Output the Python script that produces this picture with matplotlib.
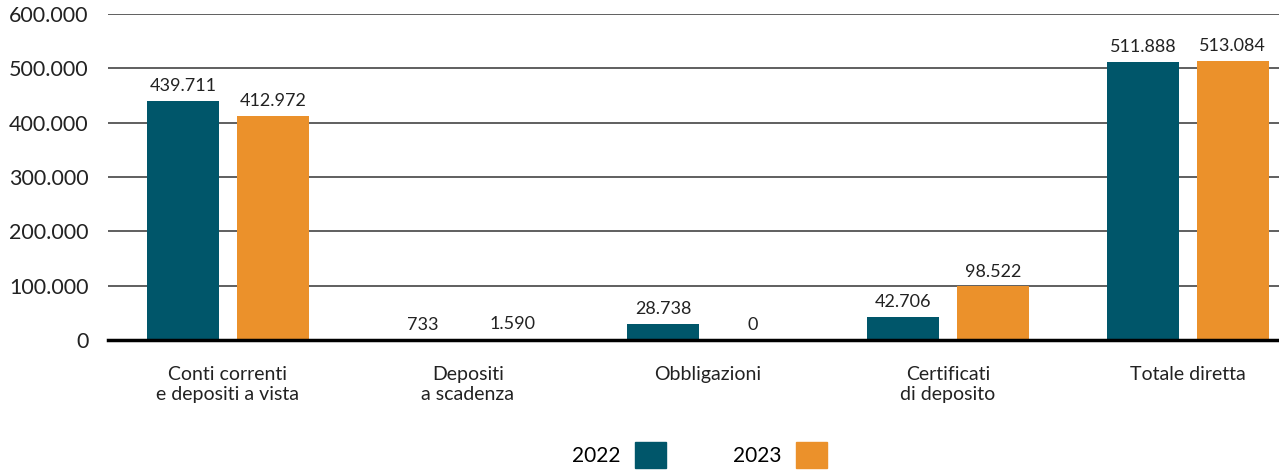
import matplotlib
matplotlib.use("Agg")
import matplotlib.pyplot as plt
from matplotlib.patches import Patch

categories = ["Conti correnti\ne depositi a vista", "Depositi\na scadenza", "Obbligazioni",
              "Certificati\ndi deposito", "Totale diretta"]
values_2022 = [439711, 733, 28738, 42706, 511888]
values_2023 = [412972, 1590, 0, 98522, 513084]
series_names = ["2022", "2023"]
yticks = [0, 100000, 200000, 300000, 400000, 500000, 600000]

c22 = "#00566A"
c23 = "#EB912B"

def fmt(v):
    return f"{v:,}".replace(",", ".")

plt.rcParams['font.family'] = ['Lato', 'DejaVu Sans']

fig = plt.figure(figsize=(12.79, 4.71), dpi=100)
ax = fig.add_axes([108/1279, 1-340/471, 1-108/1279, (340-14)/471])

x = list(range(len(categories)))
w = 0.30
off = 0.1875
b1 = ax.bar([i - off for i in x], values_2022, width=w, color=c22, zorder=3)
b2 = ax.bar([i + off for i in x], values_2023, width=w, color=c23, zorder=3)

for bars, vals in ((b1, values_2022), (b2, values_2023)):
    for r, v in zip(bars, vals):
        ax.annotate(fmt(v), (r.get_x() + r.get_width()/2, v), xytext=(0, 5),
                    textcoords="offset points", ha="center", va="bottom",
                    fontsize=13, color="#222222")

ax.set_xlim(-0.5, 4.38)
ax.set_ylim(0, 600000)
ax.set_yticks(yticks)
ax.set_yticklabels([fmt(t) for t in yticks], fontsize=15.5, color="#222222")
ax.set_xticks(x)
ax.set_xticklabels(categories, fontsize=14, color="#222222", linespacing=1.2)
ax.tick_params(axis="both", length=0)
ax.tick_params(axis="x", pad=19)
ax.tick_params(axis="y", pad=14)
ax.yaxis.grid(True, color="#444444", linewidth=1.2, zorder=0)
for s in ("top", "right", "left"):
    ax.spines[s].set_visible(False)
ax.spines["bottom"].set_color("black")
ax.spines["bottom"].set_linewidth(2.5)
ax.spines["bottom"].set_zorder(4)

handles = [Patch(color=c22), Patch(color=c23)]
fig.legend(handles, series_names, loc="center", bbox_to_anchor=(0.547, 0.034),
           ncol=2, frameon=False, markerfirst=False, fontsize=15,
           handlelength=1.5, handleheight=1.5, handletextpad=0.7, columnspacing=3.2)

fig.savefig("out.png", dpi=100)
